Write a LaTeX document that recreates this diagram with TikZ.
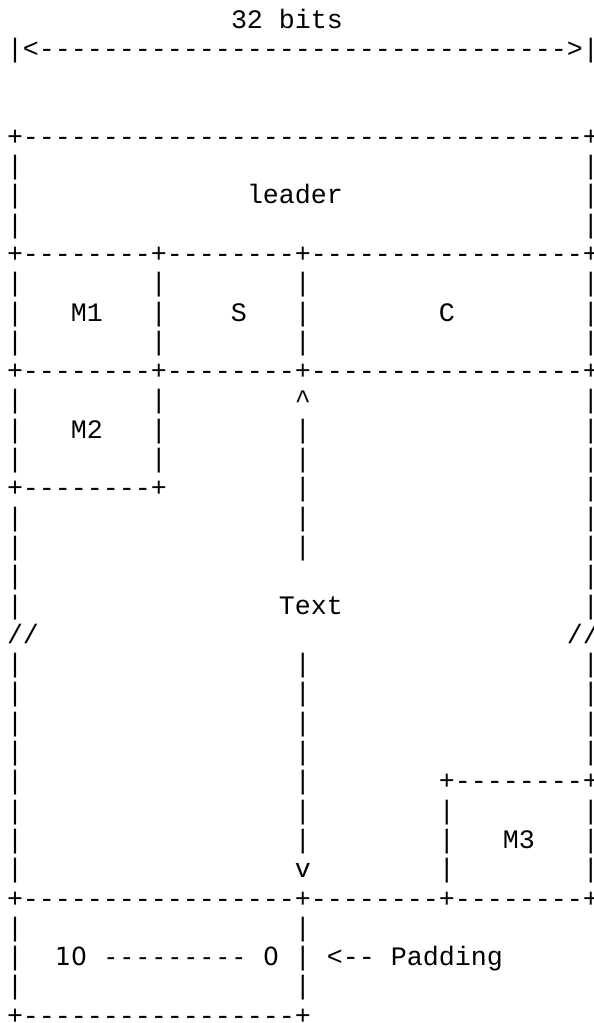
\documentclass[tikz,border=0pt]{standalone}
\usepackage{fontspec}
\newfontfamily\asciifont{Liberation Mono}
\newfontfamily\padfont{DejaVu Sans}
\newlength\cellw
\setlength\cellw{8pt}
% one character per cell, so that every row keeps the grid
\def\ascend{ascend-marker}
\newcommand\skipcols[1]{\hspace*{#1\cellw}}
\newcommand\dashcols[1]{\foreach\i in {1,...,#1}{\makebox[\cellw]{-}}}
\newcommand\ascrow[1]{\ascnext#1\ascend}
\def\ascnext#1{%
  \ifx#1\ascend \let\ascdo\relax
  \else\ifx#1\skipcols \let\ascdo\ascskip
  \else\ifx#1\dashcols \let\ascdo\ascdash
  \else \makebox[\cellw]{#1}\let\ascdo\ascnext
  \fi\fi\fi\ascdo}
\def\ascskip#1{\skipcols{#1}\ascnext}
\def\ascdash#1{\dashcols{#1}\ascnext}
\tikzset{
    asciirow/.style={anchor=base west, inner sep=0pt, outer sep=0pt, yshift=-4pt, font=\asciifont\fontsize{13.33pt}{14pt}\selectfont}
}

\begin{document}
\begin{tikzpicture}[x=8pt, y=-14.65pt]
    \useasboundingbox (-7.5pt,10pt) rectangle (289.5pt,-501.5pt);

    % Width marker
    \node (r0) [asciirow] at (-0.5,0) {\ascrow{\skipcols{14}32\skipcols{1}bits}};
    \node (r1) [asciirow] at (-0.5,1) {\ascrow{|<\dashcols{33}>|}};

    % Leader
    \node (r4) [asciirow] at (-0.5,4) {\ascrow{+\dashcols{35}+}};
    \foreach \r in {5,7}
        \node (r\r) [asciirow] at (-0.5,\r) {\ascrow{|\skipcols{35}|}};
    \node (r6) [asciirow] at (-0.5,6) {\ascrow{|\skipcols{14}leader\skipcols{15}|}};

    % M1, S, C
    \foreach \r in {8,12}
        \node (r\r) [asciirow] at (-0.5,\r) {\ascrow{+\dashcols{8}+\dashcols{8}+\dashcols{17}+}};
    \foreach \r in {9,11,15}
        \node (r\r) [asciirow] at (-0.5,\r) {\ascrow{|\skipcols{8}|\skipcols{8}|\skipcols{17}|}};
    \node (r10) [asciirow] at (-0.5,10) {\ascrow{|\skipcols{3}M1\skipcols{3}|\skipcols{4}S\skipcols{3}|\skipcols{8}C\skipcols{8}|}};

    % M2 and text
    \node (r13) [asciirow] at (-0.5,13) {\ascrow{|\skipcols{8}|\skipcols{8}\textasciicircum\skipcols{17}|}};
    \node (r14) [asciirow] at (-0.5,14) {\ascrow{|\skipcols{3}M2\skipcols{3}|\skipcols{8}|\skipcols{17}|}};
    \node (r16) [asciirow] at (-0.5,16) {\ascrow{+\dashcols{8}+\skipcols{8}|\skipcols{17}|}};
    \foreach \r in {17,18,22,23,24,25}
        \node (r\r) [asciirow] at (-0.5,\r) {\ascrow{|\skipcols{17}|\skipcols{17}|}};
    \node (r19) [asciirow] at (-0.5,19) {\ascrow{|\skipcols{35}|}};
    \node (r20) [asciirow] at (-0.5,20) {\ascrow{|\skipcols{16}Text\skipcols{15}|}};
    \node (r21) [asciirow] at (-0.5,21) {\ascrow{//\skipcols{33}//}};

    % M3
    \node (r26) [asciirow] at (-0.5,26) {\ascrow{|\skipcols{17}|\skipcols{8}+\dashcols{8}+}};
    \node (r27) [asciirow] at (-0.5,27) {\ascrow{|\skipcols{17}|\skipcols{8}|\skipcols{8}|}};
    \node (r28) [asciirow] at (-0.5,28) {\ascrow{|\skipcols{17}|\skipcols{8}|\skipcols{3}M3\skipcols{3}|}};
    \node (r29) [asciirow] at (-0.5,29) {\ascrow{|\skipcols{17}v\skipcols{8}|\skipcols{8}|}};
    \node (r30) [asciirow] at (-0.5,30) {\ascrow{+\dashcols{17}+\dashcols{8}+\dashcols{8}+}};

    % Padding
    \foreach \r in {31,33}
        \node (r\r) [asciirow] at (-0.5,\r) {\ascrow{|\skipcols{17}|}};
    \node (r32) [asciirow] at (-0.5,32) {\ascrow{|\skipcols{2}}{\padfont\fontsize{12.5pt}{13pt}\selectfont\ascrow{10\skipcols{1}}\foreach\i in {1,...,9}{\makebox[\cellw]{-}}\ascrow{\skipcols{1}0}}\ascrow{\skipcols{1}|\skipcols{1}<--\skipcols{1}Padding}};
    \node (r34) [asciirow] at (-0.5,34) {\ascrow{+\dashcols{17}+}};
\end{tikzpicture}
\end{document}
